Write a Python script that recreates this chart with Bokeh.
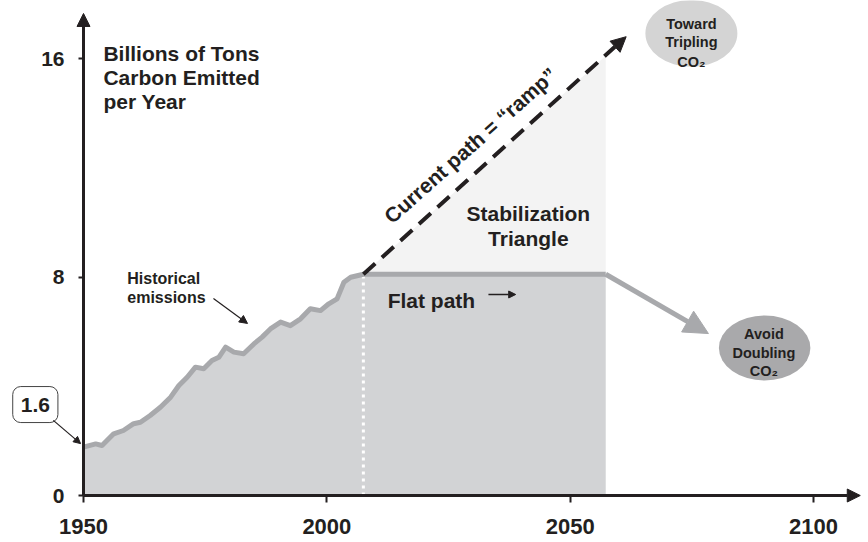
from bokeh.plotting import figure
from bokeh.models import Range1d, FixedTicker, Label, Arrow, NormalHead
from bokeh.embed import file_html
from bokeh.resources import INLINE

# ---- data ----
hist_years = [1950.0, 1952.5, 1953.8, 1956.2, 1958.2, 1960.3, 1961.7, 1963.7, 1965.8, 1967.9,
              1969.6, 1971.3, 1973.0, 1974.7, 1976.4, 1977.8, 1979.2, 1980.9, 1982.9, 1985.0,
              1986.7, 1988.4, 1990.5, 1992.5, 1994.6, 1996.6, 1998.7, 2000.4, 2002.1, 2003.5,
              2004.9, 2007.5]
hist_vals = [1.77, 1.89, 1.83, 2.26, 2.38, 2.63, 2.68, 2.93, 3.23, 3.60,
             4.03, 4.33, 4.70, 4.64, 4.94, 5.06, 5.43, 5.25, 5.19, 5.55,
             5.80, 6.10, 6.35, 6.22, 6.47, 6.84, 6.77, 7.02, 7.20, 7.81,
             7.99, 8.10]
flat_years = [2007.5, 2057.3]
flat_vals = [8.1, 8.1]
ramp_years = [2007.5, 2061.5]
ramp_vals = [8.1, 16.8]
triangle_years = [2007.5, 2057.3, 2057.3]
triangle_vals = [8.1, 16.1, 8.1]
avoid_years = [2057.3, 2078.4]
avoid_vals = [8.1, 5.93]
x_ticks = [1950, 2000, 2050, 2100]
y_ticks = [0, 8, 16]

INK = "#231f20"
FILL = "#d2d3d5"
LINE = "#a8a9ac"
TRI = "#f3f3f3"
FONT = "Liberation Sans"

W, H = 868, 542
PX_YEAR = 4.867     # pixels per year
PX_UNIT = 27.31     # pixels per billion tons
AX_X, AX_Y = 83, 495  # where the axes cross, in canvas pixels
x_lo = 1950 - AX_X / PX_YEAR
x_hi = x_lo + W / PX_YEAR
y_lo = -(H - AX_Y) / PX_UNIT
y_hi = y_lo + H / PX_UNIT

p = figure(width=W, height=H, output_backend="svg", toolbar_location=None,
           x_range=Range1d(x_lo, x_hi), y_range=Range1d(y_lo, y_hi),
           min_border=0)
p.outline_line_color = None
p.grid.visible = False
p.background_fill_color = "white"
p.border_fill_color = "white"

for ax in (p.xaxis[0], p.yaxis[0]):
    ax.axis_line_width = 3
    ax.axis_line_color = INK
    ax.major_tick_line_width = 2
    ax.major_tick_line_color = INK
    ax.major_tick_in = 0
    ax.minor_tick_in = 0
    ax.minor_tick_out = 0
    ax.major_label_text_font = FONT
    ax.major_label_text_font_style = "bold"
    ax.major_label_text_color = INK

p.xaxis.fixed_location = 0
p.xaxis.ticker = FixedTicker(ticks=x_ticks)
p.xaxis.major_label_text_font_size = "22px"
p.xaxis.major_tick_out = 7
p.xaxis.major_label_standoff = 16
p.xaxis.bounds = (1950, 2106)

p.yaxis.fixed_location = 1950
p.yaxis.ticker = FixedTicker(ticks=y_ticks)
p.yaxis.major_label_text_font_size = "21px"
p.yaxis.major_tick_out = 5
p.yaxis.major_label_standoff = 14
p.yaxis.bounds = (0, 17.2)

# filled area under historical + flat path
area_x = hist_years + [flat_years[1], flat_years[1], hist_years[0]]
area_y = hist_vals + [flat_vals[1], 0, 0]
p.patch(area_x, area_y, fill_color=FILL, line_color=None)
# stabilization triangle
p.patch(triangle_years, triangle_vals, fill_color=TRI, line_color=None)
# dotted white divider
p.line([flat_years[0], flat_years[0]], [0, flat_vals[0]], line_color="white",
       line_width=3, line_dash="3 4")
# historical + flat line
p.line(hist_years + [flat_years[1]], hist_vals + [flat_vals[1]], line_color=LINE,
       line_width=5, line_join="round")

# ramp (dashed) arrow
p.add_layout(Arrow(x_start=ramp_years[0], y_start=ramp_vals[0], x_end=ramp_years[1], y_end=ramp_vals[1],
                   line_width=4, line_color=INK, line_dash="16 9",
                   end=NormalHead(size=15, fill_color=INK, line_color=INK)))
# avoid doubling arrow
p.add_layout(Arrow(x_start=avoid_years[0], y_start=avoid_vals[0], x_end=avoid_years[1], y_end=avoid_vals[1],
                   line_width=5, line_color=LINE,
                   end=NormalHead(size=24, fill_color=LINE, line_color=LINE)))

# ellipses
p.ellipse(x=[2074.9], y=[16.92], width=[18.9], height=[2.45], fill_color="#d4d4d4", line_color=None)
p.ellipse(x=[2089.95], y=[5.40], width=[18.8], height=[2.38], fill_color="#a9a9ab", line_color=None)

# axis arrowheads
p.add_layout(Arrow(x_start=1950, y_start=17.0, x_end=1950, y_end=17.65, line_width=3, line_color=INK,
                   end=NormalHead(size=13, fill_color=INK, line_color=INK)))
p.add_layout(Arrow(x_start=2105, y_start=0, x_end=2109.6, y_end=0, line_width=3, line_color=INK,
                   end=NormalHead(size=13, fill_color=INK, line_color=INK)))


def lab(x, y, text, size, align="left", baseline="alphabetic", angle=0.0, **kw):
    p.add_layout(Label(x=x, y=y, text=text, text_font=FONT, text_font_style="bold",
                       text_font_size=size, text_color=INK, text_align=align,
                       text_baseline=baseline, angle=angle, **kw))


lab(1954.1, 16.18, "Billions of Tons", "21px")
lab(1954.1, 15.31, "Carbon Emitted", "21px")
lab(1954.1, 14.41, "per Year", "21px")

lab(1959.0, 7.95, "Historical", "16px")
lab(1959.0, 7.25, "emissions", "16px")
p.add_layout(Arrow(x_start=1976.7, y_start=7.21, x_end=1983.7, y_end=6.30, line_width=1.2, line_color=INK,
                   end=NormalHead(size=8, fill_color=INK, line_color=INK)))

lab(2012.5, 7.14, "Flat path", "21px")
p.add_layout(Arrow(x_start=2033.2, y_start=7.36, x_end=2038.8, y_end=7.36, line_width=1.5, line_color=INK,
                   end=NormalHead(size=7, fill_color=INK, line_color=INK)))

lab(2041.4, 10.31, "Stabilization", "21px", align="center")
lab(2041.4, 9.41, "Triangle", "21px", align="center")

lab(2029.5, 12.82, "Current path = \u201cramp\u201d", "21px", align="center", baseline="middle", angle=0.726)

lab(2074.9, 17.25, "Toward", "14.5px", align="center")
lab(2074.9, 16.60, "Tripling", "14.5px", align="center")
lab(2074.9, 15.87, "CO\u2082", "14.5px", align="center")

lab(2089.8, 5.90, "Avoid", "14.5px", align="center")
lab(2089.8, 5.21, "Doubling", "14.5px", align="center")
lab(2089.8, 4.55, "CO\u2082", "14.5px", align="center")

# 1.6 callout box
lab(1940.1, 3.33, "1.6", "21px", align="center", baseline="middle",
    border_line_color="#444444", border_line_width=1, background_fill_color="white",
    border_radius=8, padding=dict(left=8, right=8, top=11, bottom=11))
p.add_layout(Arrow(x_start=1943.8, y_start=2.75, x_end=1949.4, y_end=1.90, line_width=1.2, line_color=INK,
                   end=NormalHead(size=7, fill_color=INK, line_color=INK)))

open("out.html", "w").write(file_html(p, INLINE))
